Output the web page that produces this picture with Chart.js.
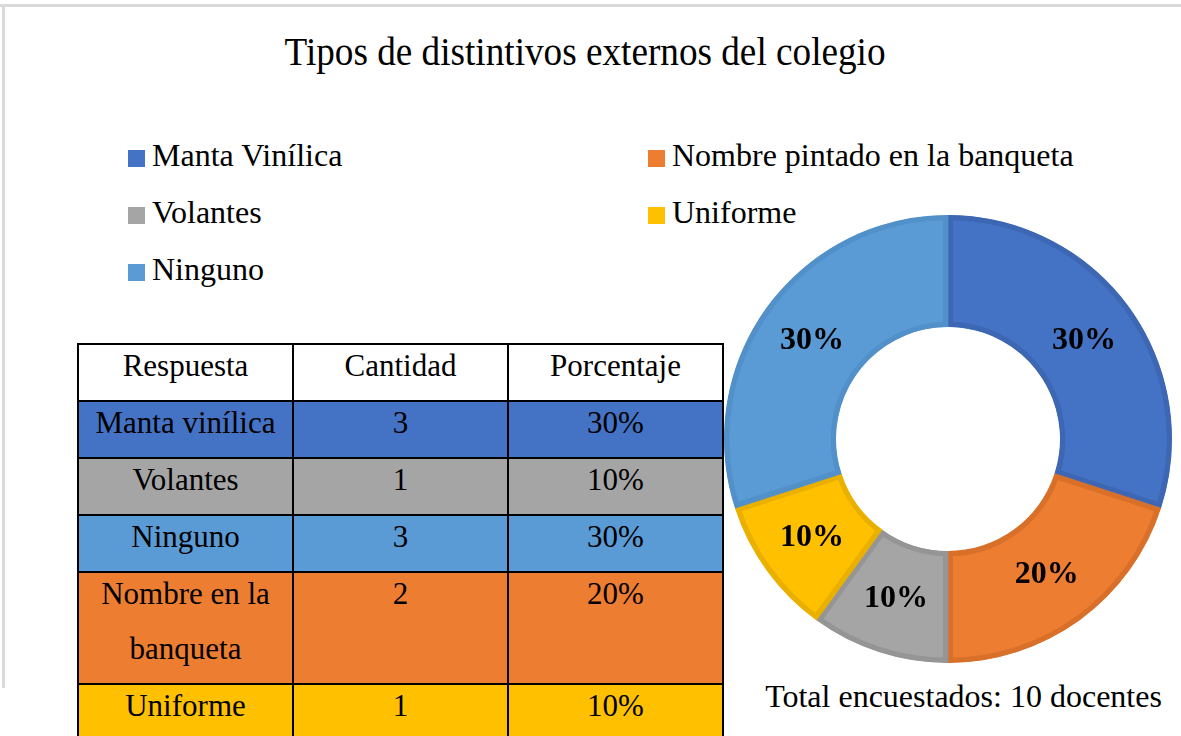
<!DOCTYPE html>
<html lang="es">
<head>
<meta charset="utf-8">
<title>Tipos de distintivos externos del colegio</title>
<script src="https://cdn.jsdelivr.net/npm/chart.js@4.4.1/dist/chart.umd.min.js"></script>
<style>
  html, body { margin: 0; padding: 0; background: #fff; }
  body { width: 1181px; height: 736px; overflow: hidden; position: relative;
         font-family: "Liberation Serif", "Times New Roman", serif; color: #000; }
  .marco-top { position: absolute; left: 0; top: 4px; width: 1181px; height: 3px; background: #dadada; }
  .marco-izq { position: absolute; left: 2px; top: 4px; width: 3px; height: 684px; background: #dadada; }
  #titulo { position: absolute; left: 0; top: 28px; width: 1170px; text-align: center;
            font-size: 40px; line-height: 48px; transform: scaleX(0.93); }
  .leyenda-item { position: absolute; font-size: 32px; line-height: 40px; white-space: nowrap; }
  .leyenda-item span.cuadro { display: inline-block; width: 17px; height: 17px; margin-right: 7px; vertical-align: -1px; }
  #tabla { position: absolute; left: 77px; top: 343px; width: 645px; border-collapse: collapse; table-layout: fixed; }
  #tabla td { border: 2px solid #000; padding: 0; vertical-align: top; text-align: center;
              font-size: 31px; line-height: 55px; overflow: hidden; }
  #tabla td div { position: relative; top: -7px; }
  #grafico { position: absolute; left: 724px; top: 215px; width: 448px; height: 448px; }
  #total { position: absolute; left: 700px; width: 527px; top: 676px; text-align: center;
           font-size: 32px; line-height: 40px; }
</style>
</head>
<body>
<div class="marco-top"></div>
<div class="marco-izq"></div>
<div id="titulo">Tipos de distintivos externos del colegio</div>
<div id="leyenda"></div>
<table id="tabla">
  <colgroup><col style="width:215px"><col style="width:215px"><col style="width:215px"></colgroup>
</table>
<div id="grafico"><canvas id="chartDistintivos"></canvas></div>
<div id="total"></div>

<script>
// datos del grafico
const categorias = ["Manta Vinílica", "Nombre pintado en la banqueta", "Volantes", "Uniforme", "Ninguno"];
const cantidades = [3, 2, 1, 1, 3];
const colores = ["#4472C4", "#ED7D31", "#A5A5A5", "#FFC000", "#5B9BD5"];
const bordes = ["#3E67B3", "#D9702A", "#959595", "#EAB000", "#5290CA"];

// datos de la tabla
const tablaCabecera = ["Respuesta", "Cantidad", "Porcentaje"];
const tablaRespuestas = ["Manta vinílica", "Volantes", "Ninguno", "Nombre en la banqueta", "Uniforme"];
const tablaCantidad = [3, 1, 3, 2, 1];
const tablaPorcentaje = ["30%", "10%", "30%", "20%", "10%"];
const tablaColores = ["#4472C4", "#A5A5A5", "#5B9BD5", "#ED7D31", "#FFC000"];

const totalDocentes = 10;

// leyenda en dos columnas
const leyenda = document.getElementById("leyenda");
categorias.forEach((cat, i) => {
  const item = document.createElement("div");
  item.className = "leyenda-item";
  item.style.left = (i % 2 === 0 ? 128 : 648) + "px";
  item.style.top = (135 + Math.floor(i / 2) * 57) + "px";
  item.innerHTML = '<span class="cuadro" style="background:' + colores[i] + '"></span>' + cat;
  leyenda.appendChild(item);
});

// tabla
const tabla = document.getElementById("tabla");
const altos = [56, 56, 55, 55, 111, 56];
const fila0 = tabla.insertRow();
fila0.style.height = altos[0] + "px";
tablaCabecera.forEach(t => {
  const c = fila0.insertCell();
  c.style.background = "#fff";
  c.innerHTML = "<div>" + t + "</div>";
});
tablaRespuestas.forEach((r, i) => {
  const fila = tabla.insertRow();
  fila.style.height = altos[i + 1] + "px";
  [r, tablaCantidad[i], tablaPorcentaje[i]].forEach(v => {
    const c = fila.insertCell();
    c.style.background = tablaColores[i];
    c.innerHTML = "<div>" + v + "</div>";
  });
});

document.getElementById("total").textContent = "Total encuestados: " + totalDocentes + " docentes";

// etiquetas de porcentaje en cada sector
const etiquetas = {
  id: "etiquetas",
  afterDatasetsDraw(chart) {
    const ctx = chart.ctx;
    const meta = chart.getDatasetMeta(0);
    const suma = cantidades.reduce((a, b) => a + b, 0);
    ctx.save();
    ctx.font = "bold 32px 'Liberation Serif'";
    ctx.fillStyle = "#000";
    ctx.textAlign = "center";
    ctx.textBaseline = "middle";
    meta.data.forEach((arc, i) => {
      const p = arc.tooltipPosition();
      ctx.fillText(Math.round(cantidades[i] / suma * 100) + "%", p.x, p.y);
    });
    ctx.restore();
  }
};

new Chart(document.getElementById("chartDistintivos"), {
  type: "doughnut",
  data: {
    labels: categorias,
    datasets: [{
      data: cantidades,
      backgroundColor: colores,
      borderColor: bordes,
      borderWidth: 5,
      borderAlign: "inner"
    }]
  },
  options: {
    responsive: true,
    maintainAspectRatio: false,
    animation: false,
    cutout: "50%",
    layout: { padding: 0 },
    plugins: {
      legend: { display: false },
      tooltip: { enabled: false }
    }
  },
  plugins: [etiquetas]
});
</script>
</body>
</html>
